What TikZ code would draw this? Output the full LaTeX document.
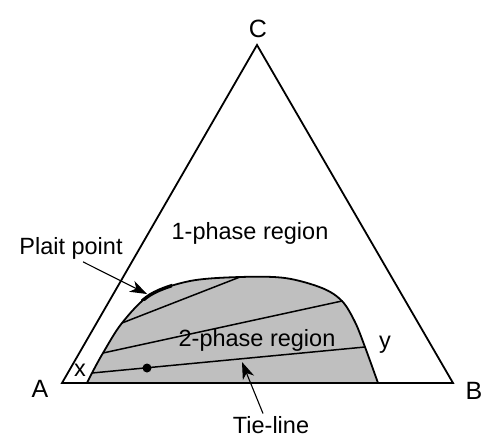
\documentclass[tikz,border=0pt]{standalone}
\usepackage{fontspec}
\setmainfont{Liberation Sans}
\usepackage{tikz}
\usetikzlibrary{arrows.meta, calc}
\definecolor{twophase}{RGB}{191,191,191}

\begin{document}
\begin{tikzpicture}[x=1pt, y=-1pt, font=\fontsize{23.5}{27}\selectfont, line width=1.8pt,
  lbl/.style={inner sep=2pt},
  pointer/.style={line width=1.1pt, -{Stealth[length=17pt,width=12pt,inset=5pt]}},
  tie/.style={line width=1.5pt}]
  \useasboundingbox (0,0) rectangle (482,437);
  \def\binodal{plot[smooth,tension=0.55] coordinates {(87,383) (92,373) (103,353) (122,323) (150,295)
    (190,281) (240,277) (285,278) (322,288) (342,301) (355,322) (365,347) (378,383)}}
  % ---- two-phase region under the binodal curve ----
  \fill[twophase] \binodal -- cycle;
  \draw \binodal;
  \begin{scope}                                  % thickened curve at the plait point
    \clip (141,279) rectangle (172,300);
    \draw[line width=3.4pt] \binodal;
  \end{scope}
  % ---- tie-lines, ends on the binodal ----
  \coordinate (t1l) at (92,373);  \coordinate (t1r) at (365,347);
  \coordinate (t2l) at (103,353); \coordinate (t2r) at (342,301);
  \coordinate (t3l) at (122,323); \coordinate (t3r) at (240,277);
  \draw[tie] (t1l) -- (t1r);
  \draw[tie] (t2l) -- (t2r);
  \draw[tie] (t3l) -- (t3r);
  \coordinate (feed) at (147,368);
  \fill (feed) circle (4.5pt);
  % ---- ternary triangle ----
  \coordinate (A) at (62,383);
  \coordinate (B) at (453,383);
  \coordinate (C) at (257,45);
  \draw[line join=miter] (A) -- (B) -- (C) -- cycle;
  % corner and phase labels
  \node[lbl, font=\fontsize{25}{28}\selectfont] (lblC) at (258,29) {C};
  \node[lbl, font=\fontsize{25}{28}\selectfont] (lblA) at (40,389) {A};
  \node[lbl, font=\fontsize{25}{28}\selectfont] (lblB) at (474,391) {B};
  \node[lbl] (lblx) at (80,370) {x};
  \node[lbl] (lbly) at (385,345) {y};
  \node[lbl] (lblone) at (250,233) {1-phase region};
  \node[lbl] (lbltwo) at (257,340) {2-phase region};
  % pointers
  \coordinate (plait) at (147,294);
  \coordinate (tieptr) at (242,362);
  \node[lbl] (lblplait) at (71,248) {Plait point};
  \node[lbl] (lbltie) at (271,425) {Tie-line};
  \draw[pointer] ([xshift=12pt]lblplait.south) -- (plait);
  \draw[pointer] ([xshift=-8pt]lbltie.north) -- (tieptr);
\end{tikzpicture}
\end{document}
